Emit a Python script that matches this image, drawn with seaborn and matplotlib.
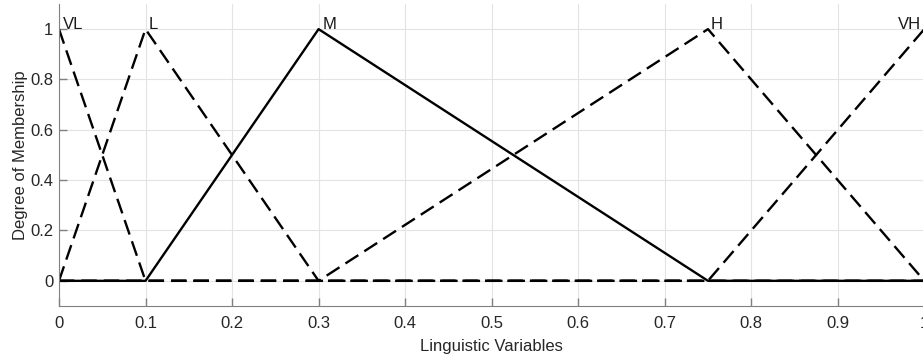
import pandas as pd
import seaborn as sns
import matplotlib.pyplot as plt

# membership function breakpoints
vl_x = [0, 0.1, 1]
vl_y = [1, 0, 0]
l_x = [0, 0.1, 0.3, 1]
l_y = [0, 1, 0, 0]
m_x = [0, 0.1, 0.3, 0.75, 1]
m_y = [0, 0, 1, 0, 0]
h_x = [0, 0.3, 0.75, 1]
h_y = [0, 0, 1, 0]
vh_x = [0, 0.75, 1]
vh_y = [0, 0, 1]

names = ["VL", "L", "M", "H", "VH"]
label_x = [0.005, 0.104, 0.305, 0.753, 0.969]
label_y = [1, 1, 1, 1, 1]

sns.set_style("whitegrid", {"grid.color": "#e3e3e3", "axes.edgecolor": "#808080"})
plt.rcParams["font.family"] = ["Liberation Sans", "DejaVu Sans"]

fig = plt.figure(figsize=(9.23, 3.6), dpi=100)
ax = fig.add_axes([0.0639, 0.15, 0.9375, 0.839])

dashed = [(vl_x, vl_y), (l_x, l_y), (h_x, h_y), (vh_x, vh_y)]
for xs, ys in dashed:
    df = pd.DataFrame({"x": xs, "y": ys})
    sns.lineplot(data=df, x="x", y="y", ax=ax, color="black", linewidth=1.7,
                 dashes=False, sort=False, estimator=None, linestyle=(0, (6.5, 3)))

df_m = pd.DataFrame({"x": m_x, "y": m_y})
sns.lineplot(data=df_m, x="x", y="y", ax=ax, color="black", linewidth=1.7,
             sort=False, estimator=None)

for name, tx, ty in zip(names, label_x, label_y):
    ax.text(tx, ty, name, fontsize=12, va="baseline", ha="left", color="#1a1a1a")

ax.set_xlim(0, 1)
ax.set_ylim(-0.1, 1.1)
ax.set_xticks([i / 10 for i in range(11)])
ax.set_xticklabels(["0", "0.1", "0.2", "0.3", "0.4", "0.5", "0.6", "0.7", "0.8", "0.9", "1"])
ax.set_yticks([0, 0.2, 0.4, 0.6, 0.8, 1])
ax.set_yticklabels(["0", "0.2", "0.4", "0.6", "0.8", "1"])
ax.tick_params(direction="in", length=6, width=1, colors="#262626", labelsize=12,
               left=True, bottom=True)
ax.tick_params(axis="x", pad=7)
ax.tick_params(axis="y", pad=4)
ax.tick_params(colors="#808080", which="both", labelcolor="#262626")
for side in ["top", "right"]:
    ax.spines[side].set_visible(False)
ax.set_xlabel("Linguistic Variables", fontsize=12, color="#262626", labelpad=6)
ax.set_ylabel("Degree of Membership", fontsize=12, color="#262626", labelpad=2)

fig.savefig("out.png", dpi=100)
